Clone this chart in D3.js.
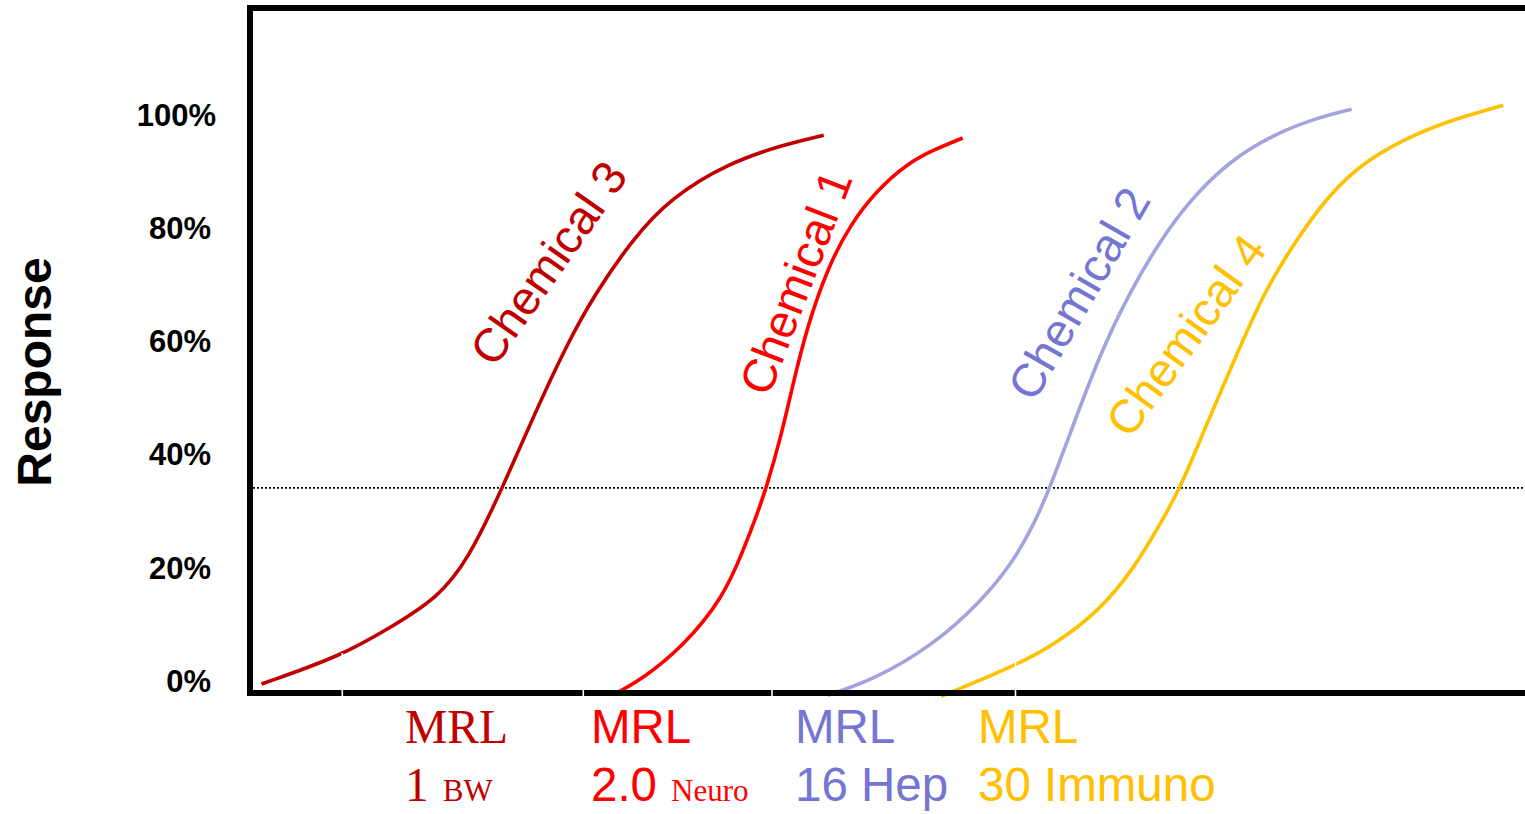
<!DOCTYPE html>
<html>
<head>
<meta charset="utf-8">
<script src="https://cdn.jsdelivr.net/npm/d3@7"></script>
<style>
  html, body { margin: 0; padding: 0; background: #fff; }
  svg { display: block; }
</style>
</head>
<body>
<div id="chart"></div>
<script>
// dose index (0-100 across the plot) vs response %
const chemical3 = [[0.9,-0.5],[7.1,4.4],[11.1,9.6],[14.7,14.7],[17.1,21.4],[19.8,34.2],[22.2,46.7],[24.9,59.8],[27.0,68.3],[30.0,78.2],[33.0,85.5],[37.5,91.7],[42.0,95.0],[45.0,96.6]];
const chemical1 = [[28.6,-2.3],[30.8,0.4],[34.0,6.2],[37.1,14.7],[38.7,23.2],[39.8,29.7],[40.5,34.3],[41.6,42.8],[42.6,52.7],[43.7,62.7],[45.3,73.1],[47.1,80.9],[49.2,86.9],[51.5,91.5],[53.6,94.0],[55.9,96.1]];
const chemical2 = [[45.3,-2.5],[48.9,0.2],[53.6,6.4],[57.3,14.0],[59.8,20.9],[61.5,27.8],[62.7,34.0],[64.3,43.7],[66.6,57.5],[68.8,68.0],[71.3,77.7],[73.8,85.3],[76.9,92.2],[80.5,97.0],[83.9,99.8],[86.4,101.2]];
const chemical4 = [[54.2,-2.7],[59.8,2.5],[63.1,6.4],[66.7,12.6],[69.4,20.2],[71.2,27.1],[72.9,33.8],[74.7,43.7],[77.2,56.8],[79.5,68.7],[81.9,77.5],[84.5,85.8],[87.5,92.2],[91.5,97.0],[95.0,99.8],[98.3,101.9]];

const yTicks = [0, 20, 40, 60, 80, 100];
const xTicks = [7.2, 26.1, 40.9, 60.0];
const threshold = 34.2;

const series = [
  { name: 'Chemical 3', pts: chemical3, line: '#c00000', text: '#c00000', lx: 23.4, ly: 74.0, angle: -55 },
  { name: 'Chemical 1', pts: chemical1, line: '#ff0000', text: '#ff0000', lx: 42.8, ly: 70.6, angle: -69 },
  { name: 'Chemical 2', pts: chemical2, line: '#a3a3e0', text: '#7575d3', lx: 65.0, ly: 68.6, angle: -60 },
  { name: 'Chemical 4', pts: chemical4, line: '#ffc000', text: '#ffc000', lx: 73.4, ly: 61.2, angle: -54 }
];

const mrlLabels = [
  { mrl: 'MRL', val: '1', sub: 'BW', color: '#c00000', serif: true, x: 405 },
  { mrl: 'MRL', val: '2.0', sub: 'Neuro', color: '#ff0000', serif: false, x: 591 },
  { mrl: 'MRL', val: '16 Hep', sub: '', color: '#7575d3', serif: false, x: 795 },
  { mrl: 'MRL', val: '30 Immuno', sub: '', color: '#ffc000', serif: false, x: 978 }
];

const width = 1525, height = 814;
const sans = '"Liberation Sans", Arial, sans-serif';
const serif = '"Liberation Serif", "Times New Roman", serif';

const x = d3.scaleLinear().domain([0, 100]).range([250, 1525]);
const y = d3.scaleLinear().domain([-2.1, 119.1]).range([693, 8]);

const svg = d3.select('#chart').append('svg')
  .attr('width', width).attr('height', height);

// y axis labels
svg.append('g').attr('transform', 'translate(250,0)')
  .call(d3.axisLeft(y).tickValues(yTicks).tickSize(0).tickPadding(39).tickFormat(d => d + '%'))
  .call(ax => ax.select('.domain').remove())
  .selectAll('text')
  .attr('font-family', sans).attr('font-size', '31px').attr('font-weight', '700').attr('fill', '#000')
  .attr('dx', d => d === 100 ? 5 : 0);

svg.append('text')
  .attr('transform', 'translate(51,372) rotate(-90)')
  .attr('text-anchor', 'middle')
  .attr('font-family', sans).attr('font-size', '48px').attr('font-weight', '700')
  .text('Response');

// threshold line
svg.append('line')
  .attr('x1', x(0) + 3).attr('x2', width)
  .attr('y1', y(threshold)).attr('y2', y(threshold))
  .attr('stroke', '#000').attr('stroke-width', 1.6).attr('stroke-dasharray', '2,2');

const line = d3.line().x(d => x(d[0])).y(d => y(d[1])).curve(d3.curveBasis);

series.forEach(s => {
  svg.append('path').datum(s.pts)
    .attr('d', line)
    .attr('fill', 'none').attr('stroke', s.line).attr('stroke-width', 3.6);
  svg.append('text')
    .attr('transform', `translate(${x(s.lx)},${y(s.ly)}) rotate(${s.angle})`)
    .attr('text-anchor', 'middle').attr('dominant-baseline', 'central')
    .attr('font-family', sans).attr('font-size', '47px').attr('fill', s.text)
    .text(s.name);
});

// frame (open on the right)
svg.append('path')
  .attr('d', `M${width + 5},${y(119.1)}H${x(0)}V${y(-2.1)}H${width + 5}`)
  .attr('fill', 'none').attr('stroke', '#000').attr('stroke-width', 6)
  .attr('stroke-linejoin', 'miter');

// white tick marks cutting through the x axis
svg.append('g').attr('transform', `translate(0,${y(-2.1) + 4})`)
  .call(d3.axisBottom(x).tickValues(xTicks).tickSize(-44).tickFormat(''))
  .call(ax => ax.select('.domain').remove())
  .selectAll('line').attr('stroke', '#fff').attr('stroke-width', 1.6);

// MRL labels under the axis
mrlLabels.forEach(m => {
  const font = m.serif ? serif : sans;
  svg.append('text')
    .attr('x', m.x).attr('y', 743)
    .attr('font-family', font).attr('font-size', '47.5px').attr('fill', m.color)
    .text(m.mrl);
  const t = svg.append('text')
    .attr('x', m.x).attr('y', 801)
    .attr('font-family', font).attr('font-size', '47.5px').attr('fill', m.color);
  t.append('tspan').text(m.val);
  if (m.sub) {
    t.append('tspan').attr('font-family', serif).attr('font-size', '31px').attr('dx', 14).text(m.sub);
  }
});
</script>
</body>
</html>
